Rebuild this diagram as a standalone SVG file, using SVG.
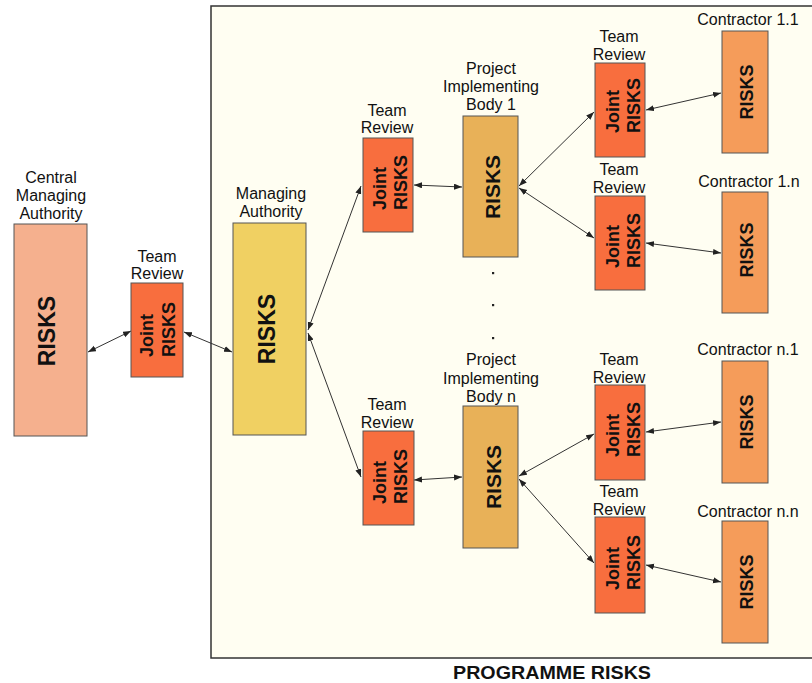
<svg xmlns="http://www.w3.org/2000/svg" width="812" height="683" viewBox="0 0 812 683">
<style>
  .lbl{font-family:"Liberation Sans",Arial,sans-serif;font-size:16px;fill:#111;text-anchor:middle}
  .big{font-family:"Liberation Sans",Arial,sans-serif;font-weight:bold;fill:#111;text-anchor:middle}
  .jr{font-family:"Liberation Sans",Arial,sans-serif;font-weight:bold;font-size:18px;fill:#111;text-anchor:start}
  .box{stroke:#555;stroke-width:1}
  .cma{fill:#f5b08e}
  .tr{fill:#f86e3e}
  .ma{fill:#f0d062}
  .pib{fill:#e8b158}
  .con{fill:#f59c5a}
  .cn{stroke:#333;stroke-width:1;fill:none;marker-start:url(#ah);marker-end:url(#ah)}
  .dot{fill:#222}
</style>
<defs>
  <marker id="ah" markerUnits="userSpaceOnUse" markerWidth="9" markerHeight="7" refX="8" refY="3" orient="auto-start-reverse">
    <path d="M0,0 L8,3 L0,6 z" fill="#222"/>
  </marker>
</defs>
<rect width="812" height="683" fill="#ffffff"/>
<rect id="frame" x="211" y="6" width="612" height="652" fill="#fffef2" stroke="#333" stroke-width="1.5"/>

<g id="connectors">
  <line class="cn" x1="88" y1="352" x2="131" y2="331"/>
  <line class="cn" x1="184" y1="332" x2="232" y2="352"/>
  <line class="cn" x1="308" y1="330" x2="361" y2="186"/>
  <line class="cn" x1="308" y1="333" x2="361" y2="477"/>
  <line class="cn" x1="414" y1="185" x2="462" y2="187"/>
  <line class="cn" x1="414" y1="480" x2="462" y2="477"/>
  <line class="cn" x1="519" y1="186" x2="594" y2="112"/>
  <line class="cn" x1="519" y1="188" x2="594" y2="238"/>
  <line class="cn" x1="519" y1="476" x2="594" y2="434"/>
  <line class="cn" x1="519" y1="479" x2="594" y2="563"/>
  <line class="cn" x1="646" y1="110" x2="721" y2="93"/>
  <line class="cn" x1="646" y1="243" x2="721" y2="253"/>
  <line class="cn" x1="646" y1="432" x2="721" y2="422"/>
  <line class="cn" x1="646" y1="565" x2="721" y2="582"/>
</g>

<g id="central-managing-authority">
  <text class="lbl" x="51" y="183">Central</text>
  <text class="lbl" x="51" y="201">Managing</text>
  <text class="lbl" x="51" y="219">Authority</text>
  <rect class="box cma" x="14" y="224" width="73" height="212"/>
  <text class="big" font-size="23" transform="translate(55,331) rotate(-90)">RISKS</text>
</g>

<g id="team-review-cma">
  <text class="lbl" x="157" y="262">Team</text>
  <text class="lbl" x="157" y="279">Review</text>
  <rect class="box tr" x="131" y="283" width="52" height="94"/>
  <g transform="translate(131,357) rotate(-90)">
    <text class="jr" x="0" y="22">Joint</text>
    <text class="jr" x="0" y="44">RISKS</text>
  </g>
</g>

<g id="managing-authority">
  <text class="lbl" x="271" y="199">Managing</text>
  <text class="lbl" x="271" y="217">Authority</text>
  <rect class="box ma" x="233" y="223" width="73" height="212"/>
  <text class="big" font-size="23" transform="translate(275,329) rotate(-90)">RISKS</text>
</g>

<g id="team-review-pib1">
  <text class="lbl" x="387" y="116">Team</text>
  <text class="lbl" x="387" y="133">Review</text>
  <rect class="box tr" x="363" y="138" width="50" height="94"/>
  <g transform="translate(363,210) rotate(-90)">
    <text class="jr" x="0" y="23">Joint</text>
    <text class="jr" x="0" y="44">RISKS</text>
  </g>
</g>

<g id="team-review-pibn">
  <text class="lbl" x="387" y="410">Team</text>
  <text class="lbl" x="387" y="428">Review</text>
  <rect class="box tr" x="363" y="431" width="51" height="94"/>
  <g transform="translate(363,504) rotate(-90)">
    <text class="jr" x="0" y="23">Joint</text>
    <text class="jr" x="0" y="44">RISKS</text>
  </g>
</g>

<g id="pib-1">
  <text class="lbl" x="491" y="74">Project</text>
  <text class="lbl" x="491" y="92">Implementing</text>
  <text class="lbl" x="491" y="110">Body 1</text>
  <rect class="box pib" x="463" y="116" width="55" height="141"/>
  <text class="big" font-size="21" transform="translate(500,187) rotate(-90)">RISKS</text>
</g>

<g id="dots">
  <rect class="dot" x="492" y="272" width="2.2" height="2.2"/>
  <rect class="dot" x="492" y="304" width="2.2" height="2.2"/>
  <rect class="dot" x="492" y="337" width="2.2" height="2.2"/>
</g>

<g id="pib-n">
  <text class="lbl" x="491" y="365">Project</text>
  <text class="lbl" x="491" y="384">Implementing</text>
  <text class="lbl" x="491" y="402">Body n</text>
  <rect class="box pib" x="463" y="406" width="55" height="142"/>
  <text class="big" font-size="21" transform="translate(501,477) rotate(-90)">RISKS</text>
</g>

<g id="team-review-1-1">
  <text class="lbl" x="619" y="42">Team</text>
  <text class="lbl" x="619" y="60">Review</text>
  <rect class="box tr" x="595" y="63" width="50" height="94"/>
  <g transform="translate(595,133) rotate(-90)">
    <text class="jr" x="0" y="24">Joint</text>
    <text class="jr" x="0" y="45">RISKS</text>
  </g>
</g>

<g id="team-review-1-n">
  <text class="lbl" x="619" y="175">Team</text>
  <text class="lbl" x="619" y="193">Review</text>
  <rect class="box tr" x="595" y="196" width="50" height="94"/>
  <g transform="translate(595,268) rotate(-90)">
    <text class="jr" x="0" y="24">Joint</text>
    <text class="jr" x="0" y="45">RISKS</text>
  </g>
</g>

<g id="team-review-n-1">
  <text class="lbl" x="619" y="365">Team</text>
  <text class="lbl" x="619" y="383">Review</text>
  <rect class="box tr" x="595" y="385" width="50" height="95"/>
  <g transform="translate(595,457) rotate(-90)">
    <text class="jr" x="0" y="24">Joint</text>
    <text class="jr" x="0" y="45">RISKS</text>
  </g>
</g>

<g id="team-review-n-n">
  <text class="lbl" x="619" y="497">Team</text>
  <text class="lbl" x="619" y="515">Review</text>
  <rect class="box tr" x="595" y="517" width="50" height="96"/>
  <g transform="translate(595,590) rotate(-90)">
    <text class="jr" x="0" y="24">Joint</text>
    <text class="jr" x="0" y="45">RISKS</text>
  </g>
</g>

<g id="contractor-1-1">
  <text class="lbl" x="748" y="25">Contractor 1.1</text>
  <rect class="box con" x="722" y="31" width="46" height="122"/>
  <text class="big" font-size="18" transform="translate(753,92) rotate(-90)">RISKS</text>
</g>

<g id="contractor-1-n">
  <text class="lbl" x="749" y="187">Contractor 1.n</text>
  <rect class="box con" x="722" y="192" width="46" height="121"/>
  <text class="big" font-size="18" transform="translate(753,250) rotate(-90)">RISKS</text>
</g>

<g id="contractor-n-1">
  <text class="lbl" x="748" y="355">Contractor n.1</text>
  <rect class="box con" x="722" y="361" width="46" height="122"/>
  <text class="big" font-size="18" transform="translate(753,422) rotate(-90)">RISKS</text>
</g>

<g id="contractor-n-n">
  <text class="lbl" x="748" y="517">Contractor n.n</text>
  <rect class="box con" x="722" y="521" width="46" height="122"/>
  <text class="big" font-size="18" transform="translate(753,582) rotate(-90)">RISKS</text>
</g>

<text id="programme-risks" class="big" font-size="18.5" x="552" y="679" textLength="198" lengthAdjust="spacingAndGlyphs">PROGRAMME RISKS</text>
</svg>
